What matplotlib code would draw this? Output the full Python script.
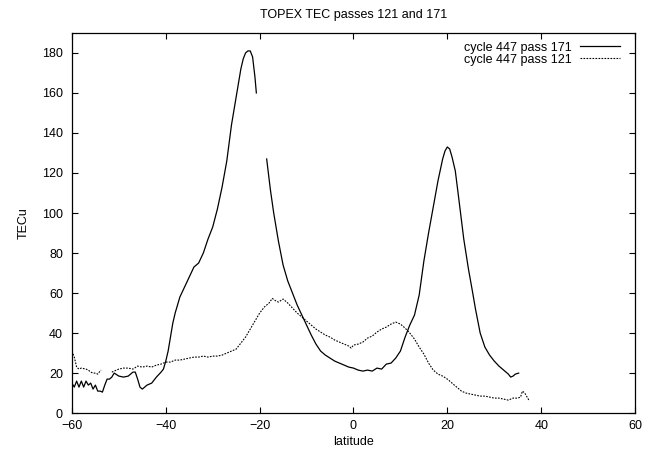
import matplotlib
matplotlib.use("Agg")
import matplotlib.pyplot as plt
import numpy as np

plt.rcParams["font.family"] = ["Liberation Sans", "DejaVu Sans"]

# pass 171 (solid), gap between the two segments
lat_171 = [-60, -59.5, -59, -58.5, -58, -57.5, -57, -56.5, -56, -55.5, -55, -54.5, -54, -53.5,
           -53, -52.5, -52, -51.5, -51, -50, -49, -48, -47, -46.5, -46, -45.5, -45, -44.5,
           -44, -43.5, -43, -42, -41, -40.5, -40, -39.5, -39, -38.5, -38, -37, -36, -35, -34,
           -33, -32, -31, -30, -29, -28, -27, -26, -25, -24, -23.5, -23, -22.5, -22, -21.5,
           -21, -20.7, np.nan,
           -18.5, -17.7, -17, -16, -15, -14, -13, -12, -11, -10, -9, -8, -7, -6, -5, -4, -3,
           -2, -1, 0, 1, 2, 3, 4, 5, 6, 7, 8, 9, 10, 11, 12, 13, 14, 15, 16, 17, 18, 19, 19.5,
           20, 20.5, 21, 21.7, 22.5, 23.5, 24.5, 25.3, 26, 27, 28, 29, 30, 31, 32, 33, 33.5,
           34, 34.5, 35.2]
tec_171 = [15, 13, 16, 13, 16, 13, 16, 14, 15, 12, 14, 11, 11, 10.5,
           14, 17, 17, 18, 20, 18.5, 18, 18.5, 20.5, 20.5, 17, 13, 12, 13,
           14, 14.5, 15, 18, 20.5, 22, 26, 31, 38, 45, 50, 58, 63, 68, 73,
           75, 80, 87, 93, 102, 113, 126, 144, 158, 172, 177, 180, 181, 181, 178,
           168, 160, np.nan,
           127, 111.5, 100, 86, 74, 66, 60, 54, 49, 44, 39, 34.5, 31, 29, 27.5, 26, 25,
           24, 23, 22.5, 21.5, 21, 21.5, 21, 22.5, 22, 24.5, 25, 27.5, 31, 38, 44, 49, 59, 76,
           90, 103, 116, 127, 131, 133, 132, 128, 121, 106, 87, 72, 61.5, 52, 40, 33, 29, 26,
           23.5, 21.5, 19.5, 18, 18.5, 19.5, 20]

# pass 121 (dashed)
lat_121 = [-60, -59.5, -59, -58.5, -58, -57, -56.5, -56, -55.5, -55, -54.5, -54, -53.8, np.nan,
           -51.5, -51, -50, -49, -48, -47, -46, -45, -44, -43, -42, -41, -40, -39, -38, -37,
           -36, -35, -34, -33, -32, -31, -30, -29, -28, -27, -26, -25, -24, -23, -22, -21,
           -20, -19, -18, -17.3, -16.5, -16, -15, -14, -13, -12, -11, -10, -9, -8, -7, -6,
           -5, -4, -3, -2, -1, -0.5, 0, 1, 2, 3, 4, 5, 6, 7, 8, 9, 10, 11, 12, 13, 14, 15,
           16, 17, 18, 19, 20, 21, 22, 23, 24, 25, 26, 27, 28, 29, 30, 31, 32, 33, 34, 35,
           35.6, 36, 36.5, 37, 37.5]
tec_121 = [31, 28, 23, 22, 22.5, 22, 21.5, 20.5, 20, 20, 19.5, 21, 21.5, np.nan,
           20.5, 21, 22, 22.5, 22.5, 22, 23.5, 23, 23.5, 23, 24, 24.5, 25.5, 25.5, 26.5, 26.5,
           27, 27.5, 28, 28, 28.5, 28, 28.5, 28.5, 29, 30, 31, 32, 35, 38, 42, 46,
           50, 53, 55, 57.3, 56, 55.5, 57, 55, 52.5, 50, 48, 46, 44, 42, 40.5, 39,
           38, 36.5, 35.5, 34.5, 33.5, 32.5, 34, 34.5, 35.5, 37.5, 38.5, 40.5, 42, 43, 44.5, 45.5, 44.5, 42.5, 40, 37, 33, 29.5,
           25, 21.5, 19.5, 18.5, 17, 15, 13, 11, 10, 9.5, 9, 8.5, 8.5, 8, 7.5, 7.5, 7, 6.5, 7.5, 7.5,
           8, 11, 10, 8, 6]

fig = plt.figure(figsize=(6.48, 4.51), dpi=100)
ax = fig.add_axes([0.111, 0.084, 0.869, 0.843])
ax.plot(lat_171, tec_171, color="black", lw=0.9, label="cycle 447 pass 171")
ax.plot(lat_121, tec_121, color="black", lw=0.8, dashes=(1.5, 1.2), label="cycle 447 pass 121")

ax.set_xlim(-60, 60)
ax.set_ylim(0, 190)
ax.set_xticks(range(-60, 61, 20))
ax.set_yticks(range(0, 181, 20))
ax.tick_params(direction="in", top=True, right=True, length=4.5, width=0.8, labelsize=9)
ax.tick_params(axis="x", pad=5)
ax.tick_params(axis="y", pad=6.5)
for s in ax.spines.values():
    s.set_linewidth(0.9)
ax.set_xlabel("latitude", fontsize=9, labelpad=3)
ax.set_ylabel("TECu", fontsize=9, labelpad=9)
ax.set_title("TOPEX TEC passes 121 and 171", fontsize=9, pad=11)
ax.legend(loc="upper right", bbox_to_anchor=(0.988, 1.0), frameon=False, markerfirst=False,
          fontsize=9, handlelength=3.2, handletextpad=0.6, labelspacing=0.0, borderaxespad=0.3)

fig.savefig("out.png", dpi=100)
